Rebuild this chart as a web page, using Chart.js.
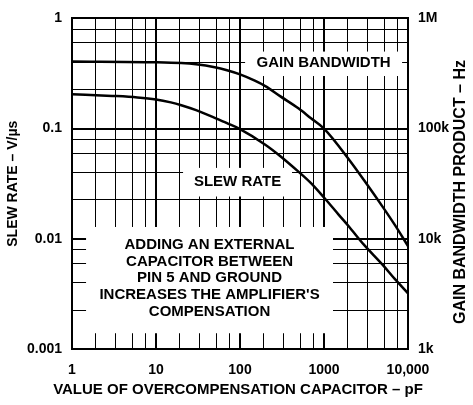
<!DOCTYPE html>
<html><head><meta charset="utf-8">
<script src="https://cdn.jsdelivr.net/npm/chart.js@4/dist/chart.umd.min.js"></script>
<style>html,body{margin:0;padding:0;background:#fff}</style>
</head><body>
<canvas id="c" width="473" height="405"></canvas>
<script>
// ---- data ----
const capGbw = [1, 10, 20, 30, 50, 70, 100, 150, 200, 300, 500, 700, 1000, 2000, 3000, 5000, 7000, 10000];
const gbwHz  = [407000, 400000, 393000, 383000, 360000, 338000, 310000, 272000, 243000, 197000, 152000, 124000, 100000, 52000, 34000, 19500, 13300, 8600];
const capSlew  = [1, 3, 6, 10, 15, 20, 30, 50, 70, 100, 200, 300, 500, 700, 1000, 1500, 2000, 3000, 5000, 7000, 10000];
const slewRate = [0.205, 0.198, 0.192, 0.184, 0.173, 0.163, 0.147, 0.125, 0.112, 0.099, 0.0715, 0.0565, 0.0405, 0.032, 0.0237, 0.0165, 0.0128, 0.0088, 0.0058, 0.0043, 0.0032];

// ---- ticks / grid ----
const xDecades = [1, 10, 100, 1000, 10000];
const xLabels  = ['1', '10', '100', '1000', '10,000'];
const xMinorSteps = [1.93, 3.34, 5.18, 7.6];
const yDecades = [0.001, 0.01, 0.1, 1];
const yLabels  = ['0.001', '0.01', '0.1', '1'];
const yMinorSteps = [0.225, 0.4, 0.6, 0.8];
const y2Decades = [1000, 10000, 100000, 1000000];
const y2Labels  = ['1k', '10k', '100k', '1M'];
const xTitle  = 'VALUE OF OVERCOMPENSATION CAPACITOR – pF';
const yTitle  = 'SLEW RATE – V/µs';
const y2Title = 'GAIN BANDWIDTH PRODUCT – Hz';

const textBoxes = [
  {x0: 115, x1: 8500, y0: 0.30, y1: 0.50, lines: ['GAIN BANDWIDTH'], dy: -1},
  {x0: 21, x1: 416, y0: 0.0242, y1: 0.044, lines: ['SLEW RATE'], dy: 0},
  {x0: 1.47, x1: 1280, y0: 0.00139, y1: 0.0128,
   lines: ['ADDING AN EXTERNAL', 'CAPACITOR BETWEEN', 'PIN 5 AND GROUND', "INCREASES THE AMPLIFIER'S", 'COMPENSATION'], dy: -2}
];

const FONT = '"Liberation Sans", Arial, sans-serif';
const xGrid = [];
xDecades.forEach((d, i) => { xGrid.push(d); if (i < xDecades.length - 1) xMinorSteps.forEach(m => xGrid.push(d * m)); });
const yGrid = [];
yDecades.forEach((d, i) => { yGrid.push(d); if (i > 0) yMinorSteps.forEach(m => yGrid.push(d * m)); });
yGrid.sort((a, b) => a - b);

const isMajor = v => Math.abs(Math.log10(v) - Math.round(Math.log10(v))) < 1e-6;
const labelFor = (vals, labels) => v => { const i = vals.findIndex(d => Math.abs(d - v) / d < 1e-6); return i >= 0 ? labels[i] : ''; };

const annot = {
  id: 'annot',
  beforeDatasetsDraw(chart) {
    const {ctx, scales: {x, y}} = chart;
    ctx.save();
    textBoxes.forEach(b => {
      const px0 = x.getPixelForValue(b.x0), px1 = x.getPixelForValue(b.x1);
      const py0 = y.getPixelForValue(b.y1), py1 = y.getPixelForValue(b.y0);
      ctx.fillStyle = '#fff';
      ctx.fillRect(px0, py0, px1 - px0, py1 - py0);
      ctx.fillStyle = '#000';
      ctx.font = 'bold 15px ' + FONT;
      ctx.textAlign = 'center';
      ctx.textBaseline = 'middle';
      const cx = (px0 + px1) / 2, cy = (py0 + py1) / 2 + b.dy;
      const lh = 16.7;
      b.lines.forEach((t, i) => ctx.fillText(t, cx, cy + (i - (b.lines.length - 1) / 2) * lh));
    });
    ctx.restore();
  },
  afterDraw(chart) {
    const {ctx, chartArea} = chart;
    ctx.save();
    ctx.fillStyle = '#000';
    ctx.textAlign = 'center';
    ctx.textBaseline = 'middle';
    ctx.font = 'bold 15px ' + FONT;
    ctx.fillText(xTitle, (chartArea.left + chartArea.right) / 2 - 2, 390);
    ctx.font = 'bold 16px ' + FONT;
    ctx.translate(461, 192);
    ctx.rotate(-Math.PI / 2);
    ctx.fillText(y2Title, 0, 0);
    ctx.restore();
  }
};

const gridW = c => (c.tick && isMajor(c.tick.value)) ? 2 : 1;

new Chart(document.getElementById('c'), {
  type: 'scatter',
  data: {
    datasets: [
      {label: 'Gain bandwidth', data: capGbw.map((c, i) => ({x: c, y: gbwHz[i]})), yAxisID: 'y2',
       showLine: true, borderColor: '#000', borderWidth: 2.5, pointRadius: 0, cubicInterpolationMode: 'monotone', fill: false},
      {label: 'Slew rate', data: capSlew.map((c, i) => ({x: c, y: slewRate[i]})), yAxisID: 'y',
       showLine: true, borderColor: '#000', borderWidth: 2.5, pointRadius: 0, cubicInterpolationMode: 'monotone', fill: false}
    ]
  },
  options: {
    responsive: false, animation: false, devicePixelRatio: 1,
    layout: {padding: {top: 13, left: 0, right: 0, bottom: 0}},
    plugins: {legend: {display: false}, tooltip: {enabled: false}},
    scales: {
      x: {
        type: 'logarithmic', position: 'bottom', min: 1, max: 10000,
        afterBuildTicks: s => { s.ticks = xGrid.map(v => ({value: v})); },
        afterFit: s => { s.height = 56; },
        grid: {color: '#000', lineWidth: gridW, drawTicks: false},
        border: {display: true, color: '#000', width: 2},
        ticks: {autoSkip: false, maxRotation: 0, padding: 13, color: '#000',
          font: {family: FONT, size: 14, weight: 'bold'}, callback: labelFor(xDecades, xLabels)},
        title: {display: false}
      },
      y: {
        type: 'logarithmic', position: 'left', min: 0.001, max: 1,
        afterBuildTicks: s => { s.ticks = yGrid.map(v => ({value: v})); },
        afterFit: s => { s.width = 72; },
        grid: {color: '#000', lineWidth: gridW, drawTicks: false},
        border: {display: true, color: '#000', width: 2},
        ticks: {autoSkip: false, padding: 10, color: '#000',
          font: {family: FONT, size: 14, weight: 'bold'}, callback: labelFor(yDecades, yLabels)},
        title: {display: true, text: yTitle, color: '#000',
          font: {family: FONT, size: 14, weight: 'bold'}, padding: {top: 5, bottom: 0}}
      },
      y2: {
        type: 'logarithmic', position: 'right', min: 1000, max: 1000000,
        afterBuildTicks: s => { s.ticks = y2Decades.map(v => ({value: v})); },
        afterFit: s => { s.width = 65; },
        grid: {display: false, drawTicks: false},
        border: {display: true, color: '#000', width: 2},
        ticks: {autoSkip: false, padding: 10, color: '#000',
          font: {family: FONT, size: 14, weight: 'bold'}, callback: labelFor(y2Decades, y2Labels)}
      }
    }
  },
  plugins: [annot]
});
</script>
</body></html>
